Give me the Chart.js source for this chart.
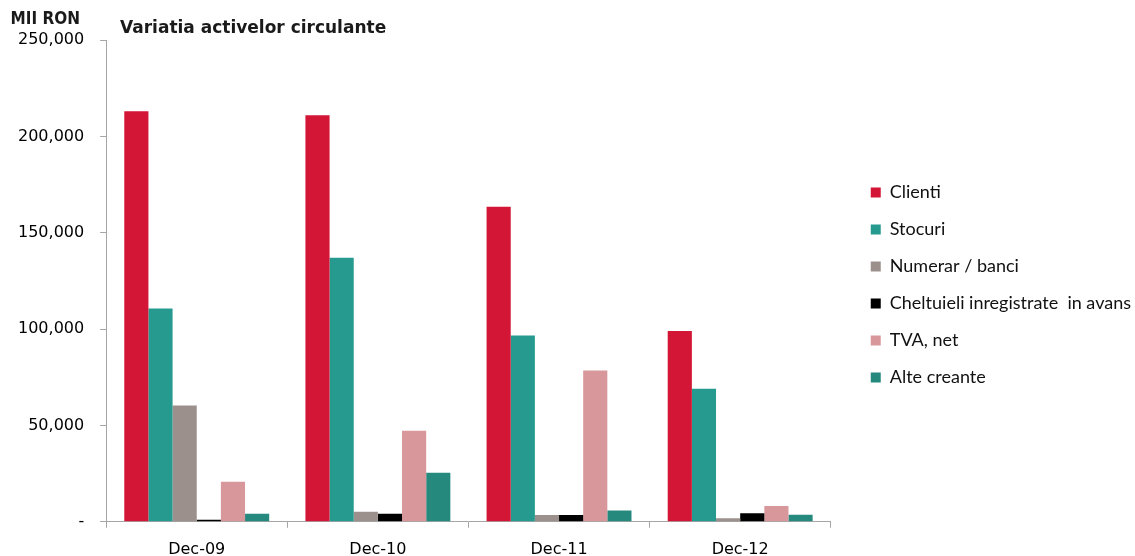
<!DOCTYPE html>
<html>
<head>
<meta charset="utf-8">
<script src="https://cdn.jsdelivr.net/npm/chart.js@4/dist/chart.umd.min.js"></script>
<style>
  html, body { margin: 0; padding: 0; background: #fff; }
  #wrap { width: 1135px; height: 556px; position: relative; }
</style>
</head>
<body>
<div id="wrap"><canvas id="activeChart"></canvas></div>
<script>
// categories
const perioade = ['Dec-09', 'Dec-10', 'Dec-11', 'Dec-12'];

// values, mii RON
const clienti = [213000, 211000, 163500, 99000];
const stocuri = [110700, 137000, 96700, 69000];
const numerar = [60300, 5200, 3500, 1900];
const cheltuieliAvans = [1000, 4200, 3500, 4500];
const tvaNet = [20800, 47300, 78500, 8200];
const alteCreante = [4200, 25500, 5900, 3600];

const yTicks = [0, 50000, 100000, 150000, 200000, 250000];

const titlu = 'Variatia activelor circulante';
const unitate = 'MII RON';

// headings drawn on the canvas
const headings = {
    id: 'headings',
    afterDraw(chart) {
        const ctx = chart.ctx;
        ctx.save();
        ctx.fillStyle = '#1a1a1a';
        ctx.textBaseline = 'middle';
        ctx.font = 'bold 17px "DejaVu Sans"';
        ctx.textAlign = 'left';
        ctx.fillText(titlu, 120, 29);
        ctx.font = 'bold 17px "DejaVu Sans Condensed", "DejaVu Sans"';
        ctx.textAlign = 'right';
        ctx.fillText(unitate, 80, 20);
        ctx.restore();
    }
};

const axisColor = '#a6a6a6';

function serie(label, values, color) {
    return {
        label: label,
        data: values,
        backgroundColor: color,
        borderWidth: 0,
        categoryPercentage: 0.8,
        barPercentage: 1.0
    };
}

var ctx = document.getElementById('activeChart').getContext('2d');

var myChart = new Chart(ctx, {
    type: 'bar',
    data: {
        labels: perioade,
        datasets: [
            serie('Clienti', clienti, '#d31635'),
            serie('Stocuri', stocuri, '#269a8e'),
            serie('Numerar / banci', numerar, '#9c908c'),
            serie('Cheltuieli inregistrate  in avans', cheltuieliAvans, '#000000'),
            serie('TVA, net', tvaNet, '#d8979b'),
            serie('Alte creante', alteCreante, '#25897e')
        ]
    },
    options: {
        responsive: true,
        maintainAspectRatio: false,
        animation: false,
        layout: {
            padding: { top: 40, left: 2, right: 0, bottom: -15 }
        },
        plugins: {
            legend: {
                position: 'right',
                align: 'center',
                fullSize: false,
                title: {
                    display: true,
                    text: '',
                    padding: 0,
                    font: { size: 8, lineHeight: 1 }
                },
                labels: {
                    boxWidth: 10,
                    boxHeight: 10,
                    padding: 19,
                    color: '#111',
                    font: { family: 'Lato', size: 18 }
                }
            },
            title: { display: false },
            tooltip: { enabled: false }
        },
        scales: {
            x: {
                offset: true,
                grid: {
                    offset: true,
                    drawOnChartArea: false,
                    color: axisColor,
                    tickLength: 6
                },
                border: { color: axisColor, width: 1 },
                ticks: {
                    color: '#000',
                    padding: 12,
                    font: { family: 'DejaVu Sans', size: 16 }
                }
            },
            y: {
                min: 0,
                max: 250000,
                afterBuildTicks: (axis) => {
                    axis.ticks = yTicks.map(v => ({ value: v }));
                },
                grid: {
                    drawOnChartArea: false,
                    color: axisColor,
                    tickLength: 6
                },
                border: { color: axisColor, width: 1 },
                ticks: {
                    color: '#000',
                    padding: 16,
                    font: { family: 'DejaVu Sans', size: 16 },
                    callback: (v) => v === 0 ? '-' : v.toLocaleString('en-US')
                }
            },
            // hidden spacer between the plot and the legend
            gap: {
                position: 'right',
                display: false,
                afterFit: (scale) => { scale.width = 21; }
            }
        }
    },
    plugins: [headings]
});
</script>
</body>
</html>
